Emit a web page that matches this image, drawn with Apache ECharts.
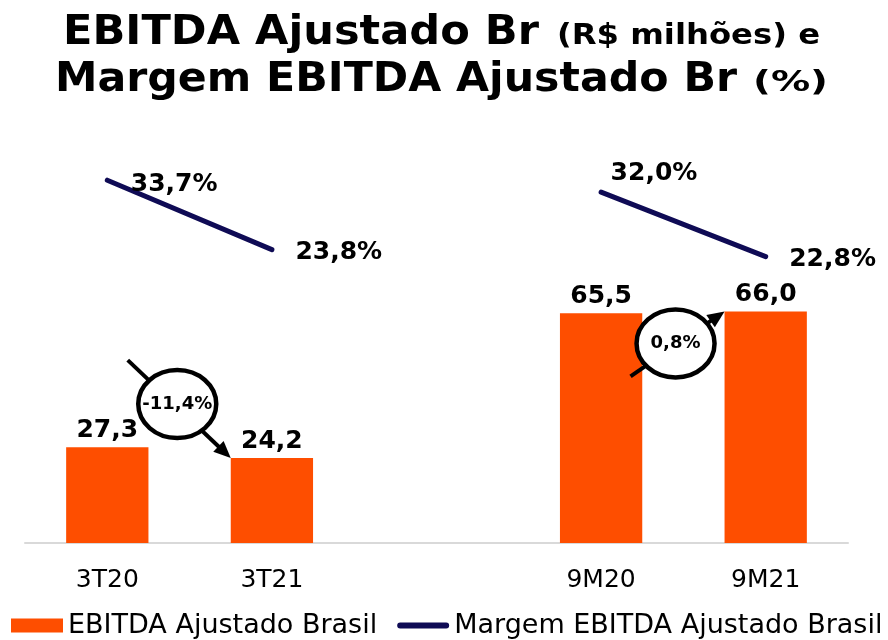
<!DOCTYPE html>
<html>
<head>
<meta charset="utf-8">
<script src="https://cdn.jsdelivr.net/npm/echarts@6/dist/echarts.min.js"></script>
<style>
  html, body { margin: 0; padding: 0; background: #fff; }
  #chart { width: 888px; height: 640px; }
</style>
</head>
<body>
<div id="chart"></div>
<script>
const categories = ['3T20', '3T21', '', '9M20', '9M21']
const ebitda = [27.3, 24.2, null, 65.5, 66.0]
const margem = [33.7, 23.8, null, 32.0, 22.8]
// variação entre os pares de barras: [barra origem, barra destino, texto]
const variacoes = [[0, 1, '-11,4%'], [3, 4, '0,8%']]

const fmt = (v, suf) => v.toFixed(1).replace('.', ',') + (suf || '')
const font = 'DejaVu Sans'
const orange = '#fe4e00'
const navy = '#0f0b55'

// deslocamento dos rótulos da margem (apenas estilo)
const lineLabelOffsets = [[0, 4], [0, 3], [0, 0], [-14, -19], [0, 3]]

// título: [texto, tamanho, x esquerdo, largura alvo, y central]
const titleParts = [
  ['EBITDA Ajustado Br', 41, 63, 476, 33],
  ['(R$ milhões) e', 28, 557, 263, 37],
  ['Margem EBITDA Ajustado Br', 41, 55, 682, 80],
  ['(%)', 28, 753, 75, 84]
]

// ícone da legenda para a linha: barra arredondada no meio de uma caixa 52x14
const lineIcon = 'path://M0,0L52,0L52,0Z M3,4H49A3,3 0 0 1 49,10H3A3,3 0 0 1 3,4Z M0,14L52,14L52,14Z'

const measureCtx = document.createElement('canvas').getContext('2d')
function textWidth (txt, size) {
  measureCtx.font = 'bold ' + size + 'px "' + font + '"'
  return measureCtx.measureText(txt).width
}

const chart = echarts.init(document.getElementById('chart'))
chart.setOption({
  animation: false,
  legend: {
    bottom: 1,
    left: 11,
    width: 1000,
    padding: 0,
    itemWidth: 52,
    itemHeight: 14,
    itemGap: 20,
    textStyle: { fontFamily: font, fontSize: 27, color: '#000' },
    data: [
      { name: 'EBITDA Ajustado Brasil', icon: 'rect', itemStyle: { color: orange } },
      { name: 'Margem EBITDA Ajustado Brasil', icon: lineIcon, itemStyle: { color: navy } }
    ]
  },
  grid: { left: 25, right: 40, top: 143, bottom: 97 },
  xAxis: {
    type: 'category',
    data: categories,
    axisTick: { show: false },
    axisLine: { lineStyle: { color: '#d9d9d9', width: 2 } },
    axisLabel: { fontFamily: font, fontSize: 25, color: '#000', margin: 25 }
  },
  yAxis: [
    { type: 'value', min: 0, max: 114, show: false },
    { type: 'value', min: -18, max: 39, show: false }
  ],
  series: [{
    name: 'EBITDA Ajustado Brasil',
    type: 'bar',
    barWidth: '50%',
    data: ebitda,
    itemStyle: { color: orange },
    label: {
      show: true,
      position: 'top',
      distance: 4,
      fontFamily: font,
      fontWeight: 'bold',
      fontSize: 25,
      color: '#000',
      formatter: p => fmt(p.value)
    }
  }, {
    name: 'Margem EBITDA Ajustado Brasil',
    type: 'line',
    yAxisIndex: 1,
    symbol: 'circle',
    symbolSize: 1,
    showSymbol: true,
    connectNulls: false,
    lineStyle: { color: navy, width: 5, cap: 'round' },
    itemStyle: { color: navy },
    data: margem.map((v, i) => ({
      value: v,
      label: { offset: lineLabelOffsets[i] }
    })),
    label: {
      show: true,
      position: 'right',
      distance: 23,
      fontFamily: font,
      fontWeight: 'bold',
      fontSize: 25,
      color: '#000',
      formatter: p => p.value == null ? '' : fmt(p.value, '%')
    }
  }]
})

function buildGraphics () {
  const elements = []
  // título em duas linhas, ajustado à largura
  titleParts.forEach(([txt, size, x, w, y]) => {
    elements.push({
      type: 'text',
      x: x,
      y: y,
      scaleX: w / textWidth(txt, size),
      style: {
        text: txt,
        fontFamily: font,
        fontWeight: 'bold',
        fontSize: size,
        fill: '#000',
        align: 'left',
        verticalAlign: 'middle'
      }
    })
  })

  // setas com elipse indicando a variação
  const c0 = chart.convertToPixel({ xAxisIndex: 0 }, 0)
  const c1 = chart.convertToPixel({ xAxisIndex: 0 }, 1)
  const halfBar = (c1 - c0) * 0.25
  variacoes.forEach(([from, to, txt]) => {
    const up = ebitda[to] > ebitda[from]
    const [tx, ty0] = chart.convertToPixel({ seriesIndex: 0 }, [to, ebitda[to]])
    const tip = [tx - halfBar, ty0]
    const start = up ? [tip[0] - 94, tip[1] + 65] : [tip[0] - 103, tip[1] - 98]
    const center = up ? [tip[0] - 49, tip[1] + 32] : [tip[0] - 53.5, tip[1] - 54]
    const dx = tip[0] - start[0]
    const dy = tip[1] - start[1]
    const len = Math.sqrt(dx * dx + dy * dy)
    const ux = dx / len
    const uy = dy / len
    const hl = 17
    const hw = 7.5
    const base = [tip[0] - ux * hl, tip[1] - uy * hl]
    elements.push({
      type: 'line',
      shape: { x1: start[0], y1: start[1], x2: base[0] + ux * 2, y2: base[1] + uy * 2 },
      style: { stroke: '#000', lineWidth: 4 },
      z: 10
    })
    elements.push({
      type: 'polygon',
      shape: { points: [tip, [base[0] - uy * hw, base[1] + ux * hw], [base[0] + uy * hw, base[1] - ux * hw]] },
      style: { fill: '#000' },
      z: 10
    })
    elements.push({
      type: 'ellipse',
      shape: { cx: center[0], cy: center[1], rx: 39, ry: 34 },
      style: { fill: '#fff', stroke: '#000', lineWidth: 4.5 },
      z: 11
    })
    elements.push({
      type: 'text',
      x: center[0],
      y: center[1],
      style: {
        text: txt,
        fontFamily: font,
        fontWeight: 'bold',
        fontSize: 18,
        fill: '#000',
        align: 'center',
        verticalAlign: 'middle'
      },
      z: 12
    })
  })
  chart.setOption({ graphic: elements })
}
buildGraphics()
</script>
</body>
</html>
